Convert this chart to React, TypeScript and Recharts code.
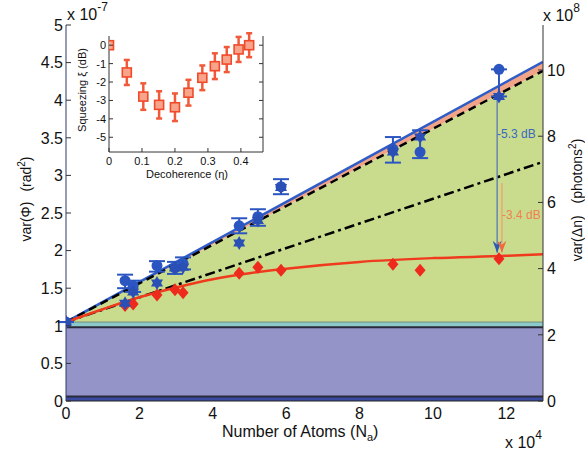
import React from "react";
import { Area, ComposedChart, ErrorBar, Line, Scatter, XAxis, YAxis } from "recharts";

const FONT = "'Liberation Sans', Arial, Helvetica, sans-serif";
const W = 585;
const H = 452;

// main panel: x in 1e4 atoms, left axis in 1e-7 rad^2
const xTicks = [0, 2, 4, 6, 8, 10, 12];
const leftTicks = [0, 0.5, 1, 1.5, 2, 2.5, 3, 3.5, 4, 4.5, 5];
const rightTicks = [0, 2, 4, 6, 8, 10];

const atoms = [0, 1.61, 1.83, 2.48, 2.97, 3.19, 4.72, 5.23, 5.86, 8.91, 9.65, 11.8];
const circleVar = [1.05, 1.6, 1.53, 1.8, 1.77, 1.83, 2.33, 2.45, 2.85, 3.35, 3.31, 4.41];
const circleErrLow = [0, 0.1, 0.08, 0.08, 0.08, 0.08, 0.1, 0.12, 0.1, 0.18, 0.08, 0.36];
const circleErrHigh = [0, 0.08, 0.07, 0.06, 0.08, 0.08, 0.1, 0.1, 0.1, 0.16, 0.29, 0];
const starVar = [1.05, 1.3, 1.45, 1.57, 1.77, 1.78, 2.1, 2.4, 2.84, 3.31, 3.51, 4.05];
const diamondVar = [1.05, 1.27, 1.29, 1.41, 1.48, 1.44, 1.7, 1.78, 1.74, 1.82, 1.74, 1.89];

// straight fits, read at both ends of the axis
const fitX = [0, 13];
const baseFit = [1.05, 1.05];
const blueFit = [1.05, 4.51];
const dashedFit = [1.05, 4.39];
const dashDotFit = [1.05, 3.18];

// red fit curve read along its length
const redFitX = [0, 1, 2, 3, 4, 5, 6, 8, 10, 12, 13];
const redFitY = [1.05, 1.22, 1.38, 1.51, 1.62, 1.7, 1.76, 1.85, 1.9, 1.93, 1.95];

// horizontal bands at the bottom
const bandEdges = [0, 0.06, 0.98, 1.05];

// the two dB arrows
const arrowX = [11.75, 11.88];
const arrowTop = [4.05, 2.9];
const arrowBottom = [1.97, 1.97];

// inset
const insetXTicks = [0, 0.1, 0.2, 0.3, 0.4];
const insetYTicks = [0, -1, -2, -3, -4, -5];
const decoherence = [0, 0.054, 0.104, 0.152, 0.2, 0.241, 0.283, 0.321, 0.357, 0.393, 0.425];
const squeezing = [0, -1.48, -2.79, -3.24, -3.37, -2.58, -1.77, -1.14, -0.78, -0.23, 0];
const squeezingErr = [0, 0.68, 0.72, 0.74, 0.75, 0.7, 0.67, 0.7, 0.68, 0.68, 0.65];

const bandData = fitX.map((x) => ({
  x,
  navy: [bandEdges[0], bandEdges[1]],
  lilac: [bandEdges[1], bandEdges[2]],
  teal: [bandEdges[2], bandEdges[3]],
  e1: bandEdges[1],
  e2: bandEdges[2],
  e3: bandEdges[3],
}));

const fitData = fitX.map((x, i) => ({
  x,
  green: [baseFit[i], dashedFit[i]],
  salmon: [dashedFit[i], blueFit[i]],
  blue: blueFit[i],
  dashed: dashedFit[i],
  dashDot: dashDotFit[i],
}));

const redData = redFitX.map((x, i) => ({ x, y: redFitY[i] }));
const circles = atoms.map((x, i) => ({ x, y: circleVar[i], err: [circleErrLow[i], circleErrHigh[i]] }));
const stars = atoms.map((x, i) => ({ x, y: starVar[i] }));
const diamonds = atoms.map((x, i) => ({ x, y: diamondVar[i] }));
const blueArrow = [
  { x: arrowX[0], y: arrowTop[0] },
  { x: arrowX[0], y: arrowBottom[0] },
];
const orangeArrow = [
  { x: arrowX[1], y: arrowTop[1] },
  { x: arrowX[1], y: arrowBottom[1] },
];
const insetData = decoherence.map((x, i) => ({ x, y: squeezing[i], err: squeezingErr[i] }));

const BLUE = "#2b55c0";
const RED = "#ee2a1c";
const ORANGE = "#f06a3c";

const CircleMark = (p: any) => <circle cx={p.cx} cy={p.cy} r={5.5} fill={BLUE} />;

const StarMark = (p: any) => {
  const { cx, cy } = p;
  const r = 7;
  const k = r * 0.866;
  return (
    <g fill="#2a4fb5">
      <polygon points={`${cx},${cy - r} ${cx + k},${cy + r / 2} ${cx - k},${cy + r / 2}`} />
      <polygon points={`${cx},${cy + r} ${cx + k},${cy - r / 2} ${cx - k},${cy - r / 2}`} />
    </g>
  );
};

const DiamondMark = (p: any) => {
  const { cx, cy } = p;
  return <polygon points={`${cx},${cy - 6.5} ${cx + 5.5},${cy} ${cx},${cy + 6.5} ${cx - 5.5},${cy}`} fill={RED} />;
};

const arrowHead = (color: string) => (p: any) => {
  const { cx, cy } = p;
  return <polygon points={`${cx},${cy} ${cx - 4.5},${cy - 12} ${cx},${cy - 8} ${cx + 4.5},${cy - 12}`} fill={color} />;
};

const SquareMark = (p: any) => (
  <rect x={p.cx - 4.5} y={p.cy - 4.5} width={9} height={9} fill="#f7a48a" stroke="#f04a2a" strokeWidth={1.6} />
);

const LeftTick = ({ x, y, payload }: any) => (
  <g>
    <line x1={x + 3} x2={x + 8} y1={y} y2={y} stroke="#333" />
    <text x={x} y={y} dy={5.7} textAnchor="end" fontSize={16} fill="#111" fontFamily={FONT}>
      {payload.value}
    </text>
  </g>
);

const RightTick = ({ x, y, payload }: any) => (
  <g>
    <line x1={x - 4} x2={x - 9} y1={y} y2={y} stroke="#333" />
    <text x={x} y={y} dy={5.7} textAnchor="start" fontSize={16} fill="#111" fontFamily={FONT}>
      {payload.value}
    </text>
  </g>
);

const BottomTick = ({ x, y, payload }: any) => (
  <text x={x} y={y + 18} textAnchor="middle" fontSize={16} fill="#111" fontFamily={FONT}>
    {payload.value}
  </text>
);

const TopTick = ({ x, y }: any) => <line x1={x} x2={x} y1={y} y2={y + 5} stroke="#333" />;

const InsetYTick = ({ x, y, payload }: any) => (
  <g>
    <line x1={x + 3} x2={x + 7} y1={y} y2={y} stroke="#333" />
    <text x={x} y={y} dy={4} textAnchor="end" fontSize={11} fill="#111" fontFamily={FONT}>
      {payload.value}
    </text>
  </g>
);

const InsetRightTick = ({ x, y }: any) => <line x1={x} x2={x - 4} y1={y} y2={y} stroke="#333" />;

const InsetXTick = ({ x, y, payload }: any) => (
  <g>
    <line x1={x} x2={x} y1={y} y2={y - 4} stroke="#333" />
    <text x={x} y={y + 13} textAnchor="middle" fontSize={11} fill="#111" fontFamily={FONT}>
      {payload.value}
    </text>
  </g>
);

const InsetTopTick = ({ x, y }: any) => <line x1={x} x2={x} y1={y} y2={y + 4} stroke="#333" />;

function Inset() {
  return (
    <div style={{ position: "absolute", left: 60, top: 26 }}>
      <ComposedChart width={210} height={165} margin={{ top: 10, right: 0, bottom: 0, left: 0 }}>
        <XAxis
          type="number"
          dataKey="x"
          domain={[0, 0.467]}
          ticks={insetXTicks}
          interval={0}
          allowDataOverflow
          height={39}
          tickSize={0}
          tickMargin={0}
          tick={(p: any) => <InsetXTick {...p} />}
          axisLine={{ stroke: "#333" }}
        />
        <XAxis
          xAxisId="t"
          orientation="top"
          type="number"
          domain={[0, 0.467]}
          ticks={insetXTicks}
          interval={0}
          allowDataOverflow
          height={0}
          tickSize={0}
          tickMargin={0}
          tick={(p: any) => <InsetTopTick {...p} />}
          axisLine={{ stroke: "#333" }}
        />
        <YAxis
          type="number"
          domain={[-5.8, 0.5]}
          ticks={insetYTicks}
          interval={0}
          allowDataOverflow
          width={49}
          tickSize={0}
          tickMargin={3}
          tick={(p: any) => <InsetYTick {...p} />}
          axisLine={{ stroke: "#333" }}
        />
        <YAxis
          yAxisId="r"
          orientation="right"
          type="number"
          domain={[-5.8, 0.5]}
          ticks={insetYTicks}
          interval={0}
          allowDataOverflow
          width={7}
          tickSize={0}
          tickMargin={0}
          tick={(p: any) => <InsetRightTick {...p} />}
          axisLine={{ stroke: "#333" }}
        />
        <Scatter data={insetData} dataKey="y" shape={SquareMark} isAnimationActive={false}>
          <ErrorBar dataKey="err" direction="y" width={3} stroke="#f05a3a" strokeWidth={2.5} />
        </Scatter>
      </ComposedChart>
    </div>
  );
}

export default function App() {
  return (
    <div style={{ position: "absolute", left: 0, top: 0, width: W, height: H, background: "#fff" }}>
      <ComposedChart width={W} height={H} margin={{ top: 25, right: 0, bottom: 0, left: 0 }}>
        <XAxis
          type="number"
          dataKey="x"
          domain={[0, 13]}
          ticks={xTicks}
          interval={0}
          allowDataOverflow
          height={51}
          tickSize={0}
          tickMargin={0}
          tick={(p: any) => <BottomTick {...p} />}
          axisLine={{ stroke: "#222" }}
        />
        <XAxis
          xAxisId="top"
          orientation="top"
          type="number"
          domain={[0, 13]}
          ticks={xTicks}
          interval={0}
          allowDataOverflow
          height={0}
          tickSize={0}
          tickMargin={0}
          tick={(p: any) => <TopTick {...p} />}
          axisLine={{ stroke: "#333" }}
        />
        <YAxis
          type="number"
          domain={[0, 5]}
          ticks={leftTicks}
          interval={0}
          allowDataOverflow
          width={66}
          tickSize={0}
          tickMargin={3}
          tick={(p: any) => <LeftTick {...p} />}
          axisLine={{ stroke: "#2e3a66" }}
        />
        <YAxis
          yAxisId="right"
          orientation="right"
          type="number"
          domain={[0, 11.36]}
          ticks={rightTicks}
          interval={0}
          allowDataOverflow
          width={42}
          tickSize={0}
          tickMargin={4}
          tick={(p: any) => <RightTick {...p} />}
          axisLine={{ stroke: "#333" }}
        />

        <Area data={bandData} dataKey="navy" type="linear" fill="#3a4aa0" fillOpacity={1} stroke="none" isAnimationActive={false} />
        <Area data={bandData} dataKey="lilac" type="linear" fill="#9494c8" fillOpacity={1} stroke="none" isAnimationActive={false} />
        <Area data={bandData} dataKey="teal" type="linear" fill="#8ccaca" fillOpacity={1} stroke="none" isAnimationActive={false} />
        <Area data={fitData} dataKey="green" type="linear" fill="#c9dc8e" fillOpacity={1} stroke="none" isAnimationActive={false} />
        <Area data={fitData} dataKey="salmon" type="linear" fill="#f2a488" fillOpacity={1} stroke="none" isAnimationActive={false} />

        <Line data={bandData} dataKey="e1" type="linear" stroke="#2a2a3a" strokeWidth={2} dot={false} activeDot={false} isAnimationActive={false} />
        <Line data={bandData} dataKey="e2" type="linear" stroke="#2a2a3a" strokeWidth={2} dot={false} activeDot={false} isAnimationActive={false} />
        <Line data={bandData} dataKey="e3" type="linear" stroke="#6a7a70" strokeWidth={0.8} dot={false} activeDot={false} isAnimationActive={false} />

        <Line data={fitData} dataKey="blue" type="linear" stroke="#2f5cc6" strokeWidth={2.5} dot={false} activeDot={false} isAnimationActive={false} />
        <Line data={fitData} dataKey="dashed" type="linear" stroke="#000" strokeWidth={2.5} strokeDasharray="8 5" dot={false} activeDot={false} isAnimationActive={false} />
        <Line data={fitData} dataKey="dashDot" type="linear" stroke="#000" strokeWidth={2.5} strokeDasharray="10 4 3 4" dot={false} activeDot={false} isAnimationActive={false} />
        <Line data={redData} dataKey="y" type="monotone" stroke="#f03a1e" strokeWidth={2.5} dot={false} activeDot={false} isAnimationActive={false} />

        <Line data={blueArrow} dataKey="y" type="linear" stroke="#5b78b5" strokeWidth={1.3} dot={false} activeDot={false} isAnimationActive={false} />
        <Line data={orangeArrow} dataKey="y" type="linear" stroke="#f3a070" strokeWidth={1.3} dot={false} activeDot={false} isAnimationActive={false} />

        <Scatter data={diamonds} dataKey="y" shape={DiamondMark} isAnimationActive={false} />
        <Scatter data={circles} dataKey="y" shape={CircleMark} isAnimationActive={false}>
          <ErrorBar dataKey="err" direction="y" width={8} stroke={BLUE} strokeWidth={2} />
        </Scatter>
        <Scatter data={stars} dataKey="y" shape={StarMark} isAnimationActive={false} />
        <Scatter data={[blueArrow[1]]} dataKey="y" shape={arrowHead("#2a5ab8")} isAnimationActive={false} />
        <Scatter data={[orangeArrow[1]]} dataKey="y" shape={arrowHead(ORANGE)} isAnimationActive={false} />
      </ComposedChart>

      <Inset />

      <svg
        width={W}
        height={H}
        style={{ position: "absolute", left: 0, top: 0, pointerEvents: "none" }}
        fontFamily={FONT}
        fill="#111"
      >
        <text x={67} y={20} fontSize={16}>
          x 10<tspan dy={-9} fontSize={12}>-7</tspan>
        </text>
        <text x={543} y={21} fontSize={16}>
          x 10<tspan dy={-9} fontSize={12}>8</tspan>
        </text>
        <text x={505} y={448} fontSize={16}>
          x 10<tspan dy={-9} fontSize={12}>4</tspan>
        </text>
        <text x={222} y={437} fontSize={16}>
          Number of Atoms (N<tspan dy={4} fontSize={11}>a</tspan>
          <tspan dy={-4}>)</tspan>
        </text>
        <text transform="rotate(-90 31 199)" x={31} y={199} textAnchor="middle" fontSize={14}>
          var(Φ)<tspan dx={10}>(rad</tspan>
          <tspan dy={-6} fontSize={10}>2</tspan>
          <tspan dy={6}>)</tspan>
        </text>
        <text transform="rotate(-90 582 200)" x={582} y={200} textAnchor="middle" fontSize={14}>
          var(Δn)<tspan dx={12}>(photons</tspan>
          <tspan dy={-6} fontSize={10}>2</tspan>
          <tspan dy={6}>)</tspan>
        </text>
        <text x={497} y={138} fontSize={12} fill="#3a68c0">
          -5.3 dB
        </text>
        <text x={502} y={219} fontSize={12} fill="#f08050">
          -3.4 dB
        </text>
        <text transform="rotate(-90 86 90)" x={86} y={90} textAnchor="middle" fontSize={11}>
          Squeezing ξ (dB)
        </text>
        <text x={187} y={178} textAnchor="middle" fontSize={11}>
          Decoherence (η)
        </text>
      </svg>
    </div>
  );
}
